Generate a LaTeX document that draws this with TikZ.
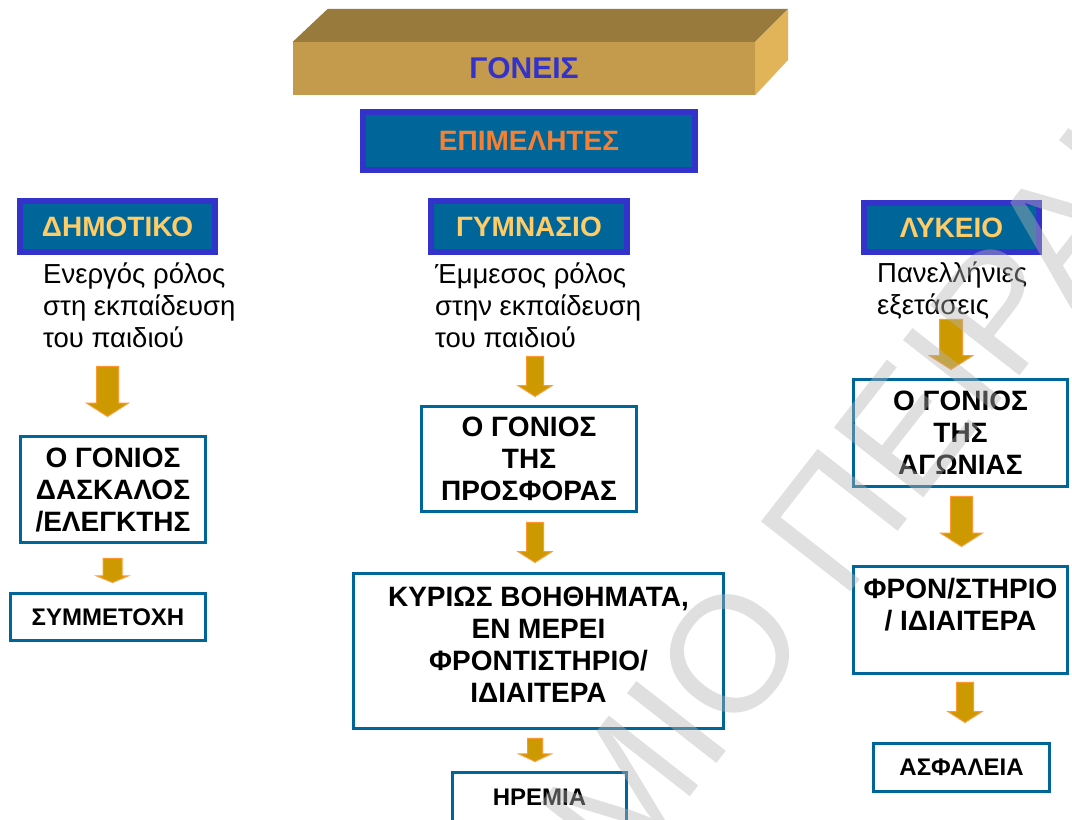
\documentclass[tikz,border=0pt]{standalone}
\usepackage{fontspec}
\setmainfont{Liberation Sans}
\usepackage{xcolor}
\usepackage{tikz}
\usetikzlibrary{calc,shapes.arrows}

\definecolor{boxblue}{RGB}{0,102,153}
\definecolor{edgeblue}{RGB}{51,51,204}
\definecolor{headyellow}{RGB}{255,204,102}
\definecolor{epiorange}{RGB}{245,128,50}
\definecolor{tanfront}{RGB}{196,154,76}
\definecolor{tantop}{RGB}{152,122,60}
\definecolor{tanside}{RGB}{226,180,90}
\definecolor{arrowgold}{RGB}{204,153,0}
\definecolor{arroworange}{RGB}{255,153,51}
\definecolor{wmgray}{RGB}{180,180,180}

\tikzset{
	headbox/.style  = {draw=edgeblue, line width=6pt, fill=boxblue, inner sep=0pt, text=headyellow, font=\fontsize{28}{32}\selectfont\bfseries},
	stepbox/.style  = {draw=boxblue, line width=3pt, fill=white, inner sep=0pt, align=center, font=\fontsize{28}{32}\selectfont\bfseries},
	smallbox/.style = {stepbox, font=\fontsize{24}{28}\selectfont\bfseries},
	roletext/.style = {anchor=north west, inner sep=0pt, align=left, font=\fontsize{27.5}{32}\selectfont},
	flowarrow/.style = {single arrow, draw=arroworange, line width=1pt, fill=arrowgold, rotate=-90, anchor=tip, single arrow tip angle=115},
	watermark/.style = {rotate=52, inner sep=0pt, text=wmgray, text opacity=.42, font=\fontsize{165}{165}\selectfont},
}

\begin{document}
\begin{tikzpicture}[x=1pt, y=-1pt]
	\useasboundingbox (0,0) rectangle (1072,820);
	\clip (0,0) rectangle (1072,820);
	% parents block on top
	\node[fill=tanfront, minimum width=462pt, minimum height=53pt, inner sep=0pt, text=edgeblue, font=\fontsize{30}{34}\selectfont\bfseries] (goneis) at (524,68.5) {ΓΟΝΕΙΣ};
	\fill[tantop] (goneis.north west) -- ++(35,-33) -- ($(goneis.north east)+(33,-33)$) -- (goneis.north east) -- cycle;
	\fill[tanside] (goneis.north east) -- ++(33,-33) -- ++(0,51) -- (goneis.south east) -- cycle;
	\node[headbox, minimum width=332pt, minimum height=58pt, text=epiorange] (epim) at (529,141) {ΕΠΙΜΕΛΗΤΕΣ};

	% the three school levels
	\node[headbox, minimum width=195pt, minimum height=51pt] (dimotiko) at (117.5,226.5) {ΔΗΜΟΤΙΚΟ};
	\node[headbox, minimum width=196pt, minimum height=51pt] (gymnasio) at (529,226.5) {ΓΥΜΝΑΣΙΟ};
	\node[headbox, minimum width=175pt, minimum height=49pt] (lykeio) at (951.5,227.5) {ΛΥΚΕΙΟ};

	\node[roletext] (dimrole) at (43,263) {Ενεργός ρόλος\\στη εκπαίδευση\\του παιδιού};
	\node[roletext] (gymrole) at (435,263) {Έμμεσος ρόλος\\στην εκπαίδευση\\του παιδιού};
	\node[roletext] (lykrole) at (877,262) {Πανελλήνιες\\εξετάσεις};

	% left column
	\node[flowarrow, minimum height=50pt, inner sep=10.5pt, single arrow head extend=10pt] (dimarr1) at (107.5,417) {};
	\node[stepbox, minimum width=185pt, minimum height=106pt] (dimstep) at (113,489.5) {Ο ΓΟΝΙΟΣ\\ΔΑΣΚΑΛΟΣ\\/ΕΛΕΓΚΤΗΣ};
	\node[flowarrow, minimum height=24pt, inner sep=9pt, single arrow head extend=6.5pt, single arrow tip angle=135] (dimarr2) at (112.5,583) {};
	\node[smallbox, minimum width=195pt, minimum height=47pt] (dimend) at (108,617) {ΣΥΜΜΕΤΟΧΗ};

	% middle column
	\node[flowarrow, minimum height=40pt, inner sep=8pt, single arrow head extend=8.5pt] (gymarr1) at (535,397) {};
	\node[stepbox, minimum width=215pt, minimum height=105pt] (gymstep) at (529,459) {Ο ΓΟΝΙΟΣ\\ΤΗΣ\\ΠΡΟΣΦΟΡΑΣ};
	\node[flowarrow, minimum height=40pt, inner sep=8pt, single arrow head extend=8.5pt] (gymarr2) at (535,563) {};
	\node[stepbox, minimum width=370pt, minimum height=155pt] (gymhelp) at (538.5,651) {ΚΥΡΙΩΣ ΒΟΗΘΗΜΑΤΑ,\\ΕΝ ΜΕΡΕΙ\\ΦΡΟΝΤΙΣΤΗΡΙΟ/\\ΙΔΙΑΙΤΕΡΑ\\[-20pt]\mbox{}};
	\node[flowarrow, minimum height=23pt, inner sep=7pt, single arrow head extend=8.5pt, single arrow tip angle=130] (gymarr3) at (535,762) {};
	\node[smallbox, minimum width=174pt, minimum height=49pt] (gymend) at (539.5,797) {ΗΡΕΜΙΑ};

	% right column
	\node[flowarrow, minimum height=50pt, inner sep=11pt, single arrow head extend=10pt] (lykarr1) at (951,370) {};
	\node[stepbox, minimum width=214pt, minimum height=107pt] (lykstep) at (960.5,433) {Ο ΓΟΝΙΟΣ\\ΤΗΣ\\ΑΓΩΝΙΑΣ};
	\node[flowarrow, minimum height=50pt, inner sep=10.5pt, single arrow head extend=10pt] (lykarr2) at (961.5,547) {};
	\node[stepbox, minimum width=214pt, minimum height=107pt] (lykhelp) at (960.5,620) {ΦΡΟΝ/ΣΤΗΡΙΟ\\/ ΙΔΙΑΙΤΕΡΑ\\\mbox{}};
	\node[flowarrow, minimum height=40pt, inner sep=8pt, single arrow head extend=8.5pt] (lykarr3) at (965,723) {};
	\node[smallbox, minimum width=176pt, minimum height=48pt] (lykend) at (961.5,767.5) {ΑΣΦΑΛΕΙΑ};

	% watermark over everything
	\node[watermark, anchor=base east] (wmleft) at (815,638) {ΠΑΝΕΠΙΣΤΗΜΙΟ};
	\node[watermark, anchor=base west] (wmright) at (842,603) {ΠΕΙΡΑΙΩΣ};
\end{tikzpicture}
\end{document}
